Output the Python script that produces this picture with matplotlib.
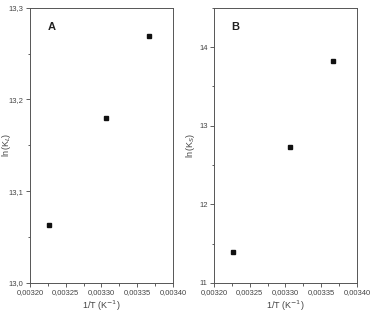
import matplotlib
matplotlib.use("Agg")
from matplotlib import pyplot as plt
from matplotlib.ticker import FuncFormatter, MultipleLocator

invT = [0.003226, 0.003306, 0.003366]
lnK_A = [13.063, 13.180, 13.269]
lnK_B = [11.40, 12.73, 13.82]

plt.rcParams['font.family'] = ['Liberation Sans', 'DejaVu Sans']
grey = '#444444'

fig = plt.figure(figsize=(3.74, 3.15), dpi=100)
axA = fig.add_axes([0.080, 0.1016, 0.3824, 0.874])
axB = fig.add_axes([0.572, 0.1016, 0.3824, 0.874])


def comma(fmt):
    return FuncFormatter(lambda v, p: (fmt % v).replace('.', ','))


for ax, y, ylab, tag in [(axA, lnK_A, r'ln(K$_L$)', 'A'), (axB, lnK_B, r'ln(K$_S$)', 'B')]:
    ax.plot(invT, y, 's', color='#111111', ms=3.3)
    ax.set_xlim(0.0032, 0.0034)
    ax.xaxis.set_major_locator(MultipleLocator(0.00005))
    ax.xaxis.set_minor_locator(MultipleLocator(0.000025))
    ax.xaxis.set_major_formatter(comma('%.5f'))
    ax.tick_params(which='both', direction='out', labelsize=5.5, colors=grey, width=0.6, pad=1.5)
    ax.tick_params(which='major', length=3)
    ax.tick_params(which='minor', length=1.8)
    for s in ax.spines.values():
        s.set_color('#555555')
        s.set_linewidth(0.7)
    ax.set_xlabel('1/T (K$^{-1}$)', fontsize=6.5, color=grey)
    ax.xaxis.set_label_coords(0.5, -0.055)
    ax.set_ylabel(ylab, fontsize=6.5, color=grey)
    ax.yaxis.set_label_coords(-0.115, 0.5)
    ax.text(0.15, 0.93, tag, transform=ax.transAxes, fontsize=8, fontweight='bold',
            color='#222222', va='center', ha='center')

axA.set_ylim(13.0, 13.3)
axA.yaxis.set_major_locator(MultipleLocator(0.1))
axA.yaxis.set_minor_locator(MultipleLocator(0.05))
axA.yaxis.set_major_formatter(comma('%.1f'))

axB.set_ylim(11, 14.5)
axB.yaxis.set_major_locator(MultipleLocator(1))
axB.yaxis.set_minor_locator(MultipleLocator(0.5))
axB.yaxis.set_major_formatter(comma('%.0f'))

fig.savefig('out.png', dpi=100)
